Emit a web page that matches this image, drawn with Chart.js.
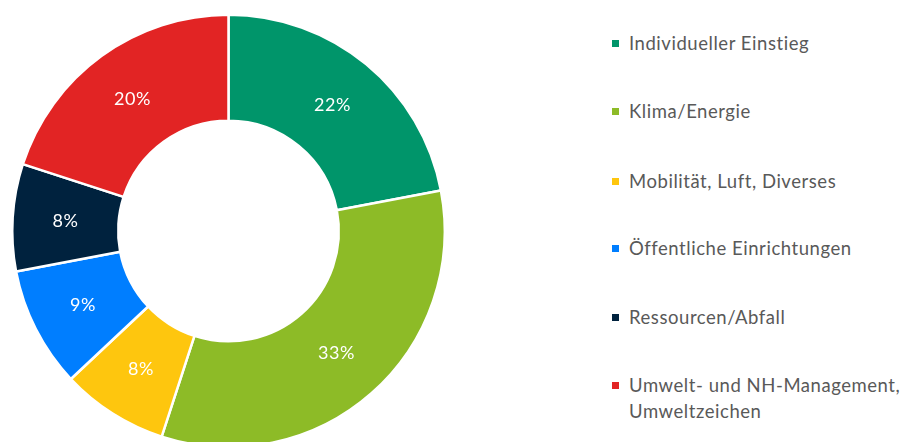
<!DOCTYPE html>
<html lang="de">
<head>
  <meta charset="UTF-8">
  <title>Themenverteilung</title>
  <script src="https://cdn.jsdelivr.net/npm/chart.js@4/dist/chart.umd.min.js"></script>
  <style>
    html, body { margin: 0; padding: 0; background: #fff; overflow: hidden; }
    body { width: 915px; height: 442px; position: relative; font-family: Lato, "Open Sans", sans-serif; }
    .chart-box { position: absolute; left: 0; top: 0; width: 457px; height: 462px; }
    #legend { position: absolute; left: 612px; top: 0; margin: 0; padding: 0; list-style: none; }
    #legend li { position: absolute; left: 0; width: 303px; color: #595959; font-size: 18.5px; letter-spacing: 0.55px; line-height: 26px; padding-left: 17px; white-space: nowrap; }
    #legend li span.box { position: absolute; left: 0; top: 10px; width: 7px; height: 7px; }
  </style>
</head>
<body>
<div class="chart-box">
  <canvas id="donut"></canvas>
</div>
<ul id="legend"></ul>

<script>
  const categories = [
    'Individueller Einstieg',
    'Klima/Energie',
    'Mobilität, Luft, Diverses',
    'Öffentliche Einrichtungen',
    'Ressourcen/Abfall',
    ['Umwelt- und NH-Management,', 'Umweltzeichen']
  ];
  const shares = [22, 33, 8, 9, 8, 20];
  const colors = ['#00956a', '#8dbb27', '#fec60e', '#007eff', '#00223e', '#e22424'];

  // legend rows, spaced like the original slide
  const legendTops = [30, 98, 168, 235, 304, 372];
  const legend = document.getElementById('legend');
  categories.forEach((c, i) => {
    const li = document.createElement('li');
    li.style.top = legendTops[i] + 'px';
    const lines = Array.isArray(c) ? c : [c];
    li.innerHTML = '<span class="box" style="background:' + colors[i] + '"></span>' + lines.join('<br>');
    legend.appendChild(li);
  });

  // percent labels in the middle of each ring segment
  const sliceLabels = {
    id: 'sliceLabels',
    afterDatasetsDraw(chart) {
      const ctx = chart.ctx;
      const meta = chart.getDatasetMeta(0);
      ctx.save();
      ctx.fillStyle = '#ffffff';
      ctx.font = '18px Lato, "Open Sans", sans-serif';
      ctx.letterSpacing = '0.6px';
      ctx.textAlign = 'center';
      ctx.textBaseline = 'middle';
      meta.data.forEach((arc, i) => {
        const p = arc.tooltipPosition();
        ctx.fillText(shares[i] + '%', p.x, p.y);
      });
      ctx.restore();
    }
  };

  new Chart(document.getElementById('donut'), {
    type: 'doughnut',
    data: {
      labels: categories.map(c => Array.isArray(c) ? c.join(' ') : c),
      datasets: [{
        data: shares,
        backgroundColor: colors,
        borderColor: '#ffffff',
        borderWidth: 2.5
      }]
    },
    options: {
      responsive: true,
      maintainAspectRatio: false,
      animation: false,
      cutout: '51%',
      layout: { padding: 11 },
      plugins: {
        legend: { display: false },
        tooltip: { enabled: false }
      }
    },
    plugins: [sliceLabels]
  });
</script>
</body>
</html>
